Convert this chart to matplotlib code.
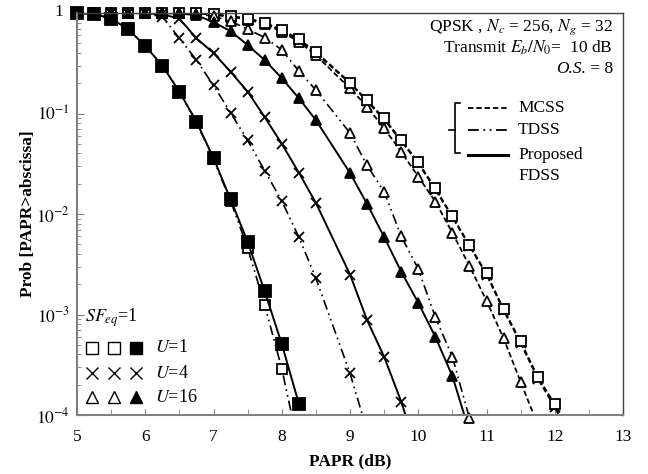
from matplotlib import pyplot as plt
import numpy as np

plt.rcParams['font.family'] = ['Liberation Serif', 'DejaVu Serif']
plt.rcParams['mathtext.fontset'] = 'stix'

# PAPR grid (dB); no samples at 8.75
papr = [5.0, 5.25, 5.5, 5.75, 6.0, 6.25, 6.5, 6.75, 7.0, 7.25, 7.5, 7.75, 8.0, 8.25, 8.5,
        9.0, 9.25, 9.5, 9.75, 10.0, 10.25, 10.5, 10.75, 11.0, 11.25, 11.5, 11.75, 12.0, 12.25]

# CCDF values, each series starts at 5 dB
mcss_u1 = [1, 1, 1, 1, 1, 1, 1, 1, 0.97, 0.93, 0.88, 0.80, 0.68, 0.55, 0.41,
           0.203, 0.135, 0.0896, 0.0545, 0.0327, 0.018, 0.0095, 0.0049, 0.00257, 0.00113,
           5.4e-4, 2.4e-4, 1.28e-4, 6e-5]
mcss_u4 = [1, 1, 1, 1, 1, 1, 1, 1, 0.97, 0.93, 0.88, 0.80, 0.67, 0.54, 0.40,
           0.20, 0.132, 0.087, 0.053, 0.032, 0.0175, 0.0093, 0.0048, 0.0025, 0.0011,
           5.2e-4, 2.3e-4, 1.2e-4, 5.5e-5]
mcss_u16 = [1, 1, 1, 1, 1, 1, 1, 1, 0.96, 0.92, 0.86, 0.78, 0.65, 0.52, 0.38,
            0.178, 0.117, 0.071, 0.0417, 0.0235, 0.0133, 0.0065, 0.00304, 0.00137, 5.8e-4,
            2.14e-4, 8e-5]
tdss_u1 = [1.0, 0.98, 0.88, 0.69, 0.47, 0.30, 0.164, 0.082, 0.035, 0.0135, 0.0046,
           0.00124, 2.9e-4, 4.7e-5]
tdss_u4 = [1, 1, 1, 1, 0.99, 0.92, 0.56, 0.34, 0.19, 0.102, 0.054, 0.027, 0.0135, 0.0059,
           0.0023, 2.6e-4, 7e-5]
tdss_u16 = [1, 1, 1, 1, 1, 1, 1, 0.98, 0.93, 0.83, 0.69, 0.57, 0.43, 0.265, 0.171,
            0.064, 0.0304, 0.0167, 0.0060, 0.00284, 9.4e-4, 3.8e-4, 9.3e-5]
fdss_u1 = [1.0, 0.98, 0.88, 0.69, 0.47, 0.30, 0.165, 0.083, 0.036, 0.014, 0.0053,
           0.0017, 5.1e-4, 1.3e-4]
fdss_u4 = [1, 1, 1, 1, 0.995, 0.97, 0.88, 0.56, 0.40, 0.26, 0.165, 0.092, 0.050, 0.0258,
           0.0129, 0.0025, 8.8e-4, 3.8e-4, 1.36e-4, 4e-5]
fdss_u16 = [1, 1, 1, 1, 1, 1, 0.99, 0.95, 0.81, 0.66, 0.48, 0.34, 0.225, 0.142, 0.086,
            0.0256, 0.0126, 0.0059, 0.00267, 0.00131, 6.0e-4, 2.44e-4, 6.8e-5]

ymin = 1e-4

# line styles
dash = (0, (3.0, 1.6))
dashdotdot = (0, (6.0, 2.5, 1.0, 2.5, 1.0, 2.5))


def curve(ax, y, ls, marker, filled, ms, lw):
    x = np.array(papr[:len(y)])
    y = np.array(y, dtype=float)
    ax.plot(x, y, color='black', ls=ls, lw=lw)
    keep = y >= ymin * 0.9
    ax.plot(x[keep], y[keep], ls='none', marker=marker, ms=ms,
            mfc='black' if filled else 'white', mec='black', mew=1.3, clip_on=False)


fig = plt.figure(figsize=(6.48, 4.74), dpi=100)
ax = fig.add_axes([77 / 648, 1 - 415 / 474, 546 / 648, 402 / 474])

# MCSS
curve(ax, mcss_u16, dash, '^', False, 7, 1.3)
curve(ax, mcss_u4, dash, 'x', False, 7, 1.3)
curve(ax, mcss_u1, dash, 's', False, 7.5, 1.3)
# TDSS
curve(ax, tdss_u16, dashdotdot, '^', False, 7, 1.2)
curve(ax, tdss_u4, dashdotdot, 'x', False, 7, 1.2)
curve(ax, tdss_u1, dashdotdot, 's', False, 7.5, 1.2)
# Proposed FDSS
curve(ax, fdss_u16, '-', '^', True, 7, 1.4)
curve(ax, fdss_u4, '-', 'x', False, 7, 1.4)
curve(ax, fdss_u1, '-', 's', True, 8, 1.4)

ax.set_yscale('log')
ax.set_xlim(5, 13)
ax.set_ylim(1e-4, 1)
ax.set_xticks(range(5, 14))
ax.set_xticks(np.arange(5.5, 13, 1.0), minor=True)
ax.set_yticks([1, 1e-1, 1e-2, 1e-3, 1e-4])
ax.set_yticklabels(['', '$10^{-1}$', '$10^{-2}$', '$10^{-3}$', '$10^{-4}$'])
ax.tick_params(axis='both', which='both', direction='in', labelsize=12.5, color='#808080')
ax.tick_params(axis='x', which='both', length=4, pad=10)
ax.tick_params(axis='y', which='major', length=5, pad=5)
ax.tick_params(axis='y', which='minor', length=3)
for s in ['left', 'bottom']:
    ax.spines[s].set_color('#808080')
    ax.spines[s].set_linewidth(1.5)
for s in ['top', 'right']:
    ax.spines[s].set_color('#404040')
    ax.spines[s].set_linewidth(1.0)

ax.set_xlabel('PAPR (dB)', fontsize=12.5, fontweight='bold', labelpad=6)
ax.set_ylabel('Prob [PAPR>abscissa]', fontsize=12.5, fontweight='bold', labelpad=0)


def axc(px, py):
    return (px - 77) / 546, (415 - py) / 402


# top tick label "1", set a bit further left than the others
ax.text(*axc(63, 12), '1', transform=ax.transAxes, ha='right', va='center', fontsize=12.5)

# parameters, top right
tx = axc(613, 0)[0]
ax.text(tx, axc(0, 27)[1], 'QPSK , $N_c$ = 256, $N_g$ = 32', transform=ax.transAxes,
        ha='right', va='center', fontsize=12.5)
ax.text(tx, axc(0, 48)[1], 'Transmit $E_b/N_0$=  10 dB', transform=ax.transAxes,
        ha='right', va='center', fontsize=12.5)
eq = ax.text(tx, axc(0, 69)[1], ' = 8', transform=ax.transAxes,
             ha='right', va='center', fontsize=12.5)
fig.canvas.draw()
left = ax.transAxes.inverted().transform(eq.get_window_extent().get_points())[0, 0]
ax.text(left, axc(0, 69)[1], 'O.S.', transform=ax.transAxes, ha='right', va='center',
        fontsize=12.5, fontstyle='italic')

# method legend with bracket
bx, by0, by1, bym = 455, 103, 153, 130
pts = [axc(460, by0), axc(bx, by0), axc(bx, by1), axc(460, by1)]
ax.plot([p[0] for p in pts], [p[1] for p in pts], color='black', lw=1.2,
        transform=ax.transAxes, clip_on=False)
p, q = axc(449, bym), axc(bx, bym)
ax.plot([p[0], q[0]], [p[1], q[1]], color='black', lw=1.2, transform=ax.transAxes)
legend_rows = [('MCSS', 108, dash, 1.3), ('TDSS', 130, dashdotdot, 1.3), ('Proposed', 155, '-', 2.2)]
for name, py, ls, lw in legend_rows:
    a, b = axc(468, py), axc(508, py)
    ax.plot([a[0], b[0]], [a[1], b[1]], color='black', ls=ls, lw=lw, transform=ax.transAxes)
    ax.text(axc(518, 0)[0], a[1], name, transform=ax.transAxes, ha='left', va='center',
            fontsize=12.5)
ax.text(axc(518, 0)[0], axc(0, 176)[1], 'FDSS', transform=ax.transAxes, ha='left',
        va='center', fontsize=12.5)

# marker legend, bottom left
ax.text(axc(85, 0)[0], axc(0, 318)[1], '$SF_{eq}$=1', transform=ax.transAxes, ha='left',
        va='center', fontsize=13)
marker_rows = [('s', '$U$=1', 348, [False, False, True]),
               ('x', '$U$=4', 373, [False, False, False]),
               ('^', '$U$=16', 397, [False, False, True])]
for mk, lab, py, fills in marker_rows:
    for px, f in zip([92, 114, 136], fills):
        ax.plot(*axc(px, py), ls='none', marker=mk, ms=8, mfc='black' if f else 'white',
                mec='black', mew=1.0, transform=ax.transAxes)
    ax.text(axc(155, 0)[0], axc(0, py)[1], lab, transform=ax.transAxes, ha='left',
            va='center', fontsize=13)

fig.savefig('out.png', dpi=100)
